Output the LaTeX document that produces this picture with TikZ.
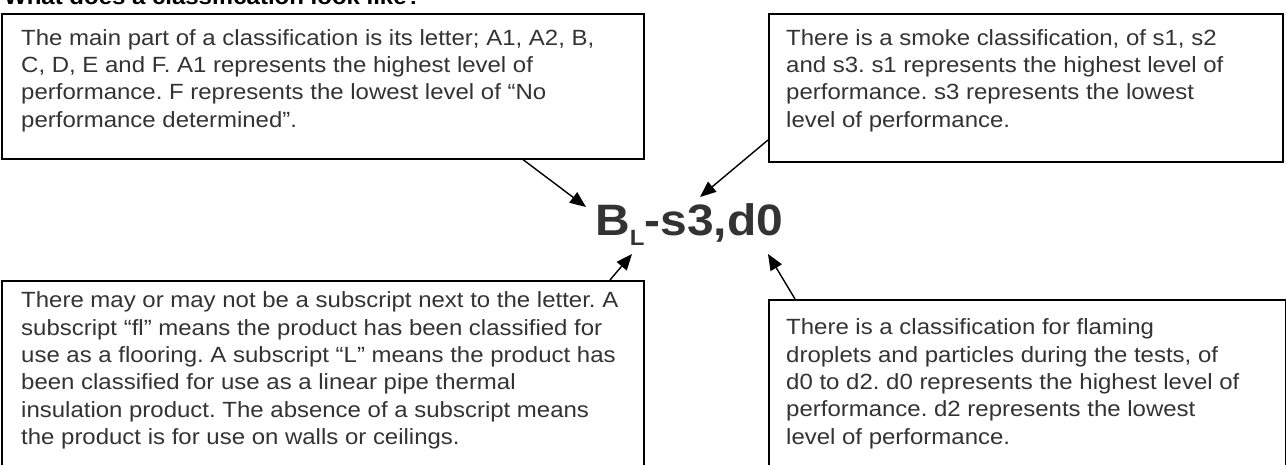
\documentclass[tikz,border=0pt]{standalone}
\usepackage{fontspec}
\setmainfont{Liberation Sans}[FakeStretch=1.09]
\frenchspacing
\usetikzlibrary{arrows.meta,positioning,calc}
\definecolor{inkgray}{HTML}{333333}
\tikzset{
  infobox/.style={draw=black, line width=1.6pt, anchor=north west, inner sep=0pt},
  infotext/.style={anchor=north west, inner sep=0pt, align=left, text=inkgray,
    font=\fontsize{22}{27.4}\selectfont},
  pointer/.style={-{Triangle[length=16pt,width=13pt]}, line width=1.4pt},
}

\begin{document}
\begin{tikzpicture}[x=1pt,y=-1pt]
  \useasboundingbox (0,0) rectangle (1286,465);
  \clip (0,0) rectangle (1286,465);
% Heading
  \node[anchor=base west, inner sep=0pt, font=\bfseries\fontsize{22}{22}\selectfont] (title) at (4,5) {What does a classification look like?};
% Classification code
  \node[anchor=base west, inner sep=0pt, text=inkgray, font=\bfseries\fontsize{44}{44}\selectfont] (code) at (595,236)
    {B\raisebox{-10pt}{\fontsize{22}{22}\selectfont L}-s3,d0};
% Letter box
  \node[infobox, minimum width=642pt, minimum height=145pt] (letterbox) at (1,13) {};
  \node[infotext] (lettertext) at ($(letterbox.north west)+(20,16)$)
    {The main part of a classification is its letter; A1, A2, B,\\
     C, D, E and F. A1 represents the highest level of\\
     performance. F represents the lowest level of “No\\
     performance determined”.};
% Smoke box
  \node[infobox, minimum width=514pt, minimum height=148pt] (smokebox) at (768,13) {};
  \node[infotext] (smoketext) at ($(smokebox.north west)+(18,16)$)
    {There is a smoke classification, of s1, s2\\
     and s3. s1 represents the highest level of\\
     performance. s3 represents the lowest\\
     level of performance.};
% Subscript box
  \node[infobox, minimum width=642pt, minimum height=200pt] (subbox) at (1,280) {};
  \node[infotext] (subtext) at ($(subbox.north west)+(20,11.5)$)
    {There may or may not be a subscript next to the letter. A\\
     subscript “fl” means the product has been classified for\\
     use as a flooring. A subscript “L” means the product has\\
     been classified for use as a linear pipe thermal\\
     insulation product. The absence of a subscript means\\
     the product is for use on walls or ceilings.};
% Droplet box
  \node[infobox, minimum width=517pt, minimum height=200pt] (dropbox) at (768,299) {};
  \node[infotext] (droptext) at ($(dropbox.north west)+(18,19.5)$)
    {There is a classification for flaming\\
     droplets and particles during the tests, of\\
     d0 to d2. d0 represents the highest level of\\
     performance. d2 represents the lowest\\
     level of performance.};
% Pointers
  \draw[pointer] ($(letterbox.south west)+(522,0)$) -- ($(code.base west)+(-9,-29)$);
  \draw[pointer] ($(smokebox.north west)+(0,127)$) -- ($(code.base west)+(105,-39)$);
  \draw[pointer] ($(subbox.north west)+(609,0)$) -- ($(code.base west)+(37,18)$);
  \draw[pointer] ($(dropbox.north west)+(27,0)$) -- ($(code.base west)+(173,18)$);
\end{tikzpicture}
\end{document}
